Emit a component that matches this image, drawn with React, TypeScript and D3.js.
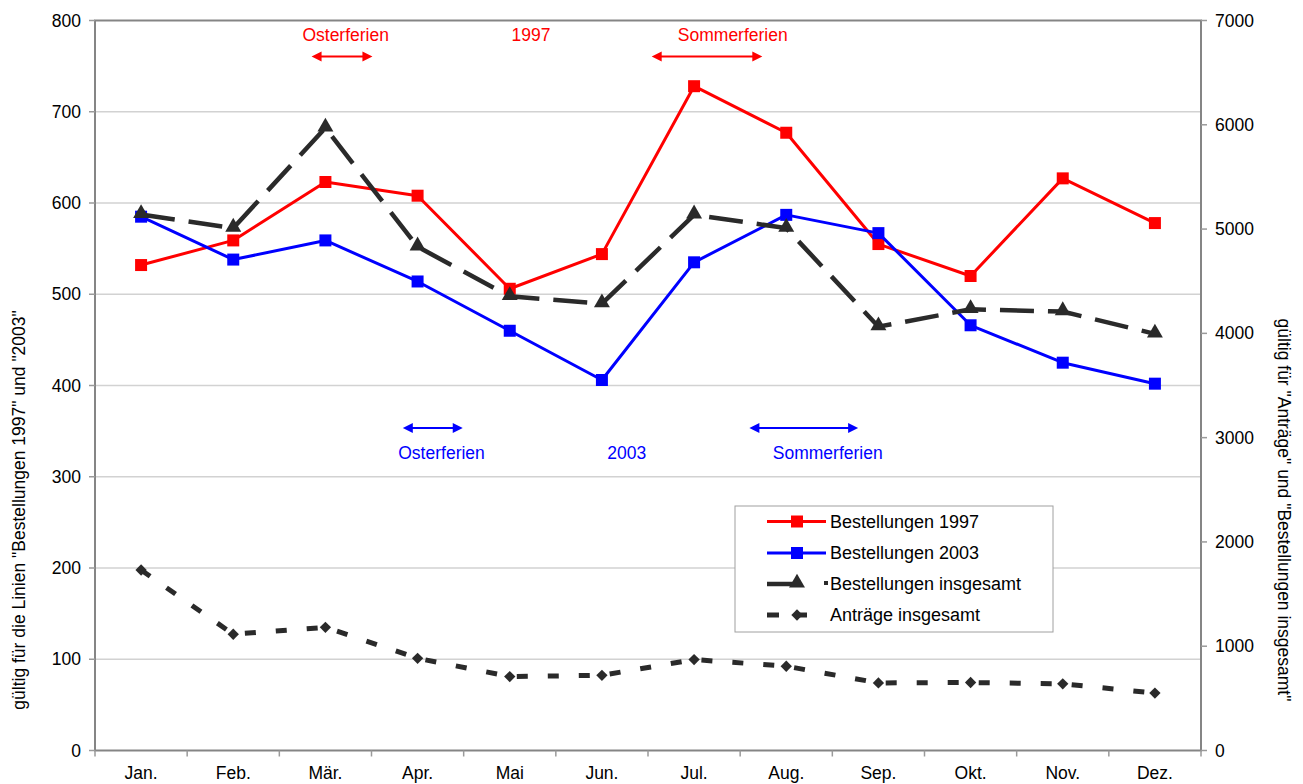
import React from 'react';
import * as d3 from 'd3';

const months = ['Jan.', 'Feb.', 'Mär.', 'Apr.', 'Mai', 'Jun.', 'Jul.', 'Aug.', 'Sep.', 'Okt.', 'Nov.', 'Dez.'];

// left axis series
const best1997 = [532, 559, 623, 608, 506, 544, 728, 677, 555, 520, 627, 578];
const best2003 = [585, 538, 559, 514, 460, 406, 535, 587, 567, 466, 425, 402];
// right axis series
const bestGesamt = [5140, 5010, 5970, 4830, 4355, 4285, 5137, 5009, 4064, 4230, 4209, 3995];
const antraege = [1731, 1115, 1181, 884, 709, 721, 872, 808, 648, 652, 639, 551];

const leftTicks = [0, 100, 200, 300, 400, 500, 600, 700, 800];
const rightTicks = [0, 1000, 2000, 3000, 4000, 5000, 6000, 7000];

// holiday annotations, positions in month index units
const ferien1997 = [
  { label: 'Osterferien', from: 1.85, to: 2.51, text: 2.22 },
  { label: 'Sommerferien', from: 5.54, to: 6.74, text: 6.42 },
];
const ferien2003 = [
  { label: 'Osterferien', from: 2.84, to: 3.49, text: 3.26 },
  { label: 'Sommerferien', from: 6.6, to: 7.78, text: 7.45 },
];

const W = 1303, H = 784;
const L = 95, R = 1201, T = 20.5, B = 750.5;
const FONT = '"Liberation Sans", Arial, sans-serif';
const DARK = '#2a2a2a';

const x = d3.scaleBand<string>().domain(months).range([L, R]).padding(0);
const cx = (m: string) => (x(m) as number) + x.bandwidth() / 2;
const xi = d3.scaleLinear().domain([0, 11]).range([cx(months[0]), cx(months[11])]);
const yL = d3.scaleLinear().domain([0, 800]).range([B, T]);
const yR = d3.scaleLinear().domain([0, 7000]).range([B, T]);

const sq = d3.symbol().type(d3.symbolSquare).size(144);
const tri = d3.symbol().type(d3.symbolTriangle).size(110);
const dia = d3.symbol().type(d3.symbolSquare).size(64);

function Arrow({ x1, x2, y, color }: { x1: number; x2: number; y: number; color: string }) {
  const h = 10, w = 5;
  return (
    <g fill={color} stroke={color}>
      <line x1={x1 + h - 1} x2={x2 - h + 1} y1={y} y2={y} strokeWidth={2} />
      <path d={`M${x1},${y}L${x1 + h},${y - w}L${x1 + h},${y + w}Z`} stroke="none" />
      <path d={`M${x2},${y}L${x2 - h},${y - w}L${x2 - h},${y + w}Z`} stroke="none" />
    </g>
  );
}

export default function App() {
  const lineL = d3.line<number>().x((_, i) => cx(months[i])).y((d) => yL(d));
  const lineR = d3.line<number>().x((_, i) => cx(months[i])).y((d) => yR(d));

  const legendX = 735, legendY = 506;
  const rows = [521.5, 553, 584, 615];

  return (
    <svg width={W} height={H} style={{ position: 'absolute', left: 0, top: 0, display: 'block' }} fontFamily={FONT}>
      <rect width={W} height={H} fill="#fff" />
      {/* gridlines */}
      {leftTicks.slice(1, -1).map((t) => (
        <line key={t} x1={L} x2={R} y1={yL(t)} y2={yL(t)} stroke="#d2d2d2" strokeWidth={1.5} />
      ))}
      {/* plot frame */}
      <rect x={L} y={T} width={R - L} height={B - T} fill="none" stroke="#858585" strokeWidth={2} />
      {/* left ticks */}
      {leftTicks.map((t) => (
        <g key={t}>
          <line x1={L - 6} x2={L} y1={yL(t)} y2={yL(t)} stroke="#9a9a9a" strokeWidth={1.5} />
          <text x={81} y={yL(t) + 6} textAnchor="end" fontSize={17.5} fill="#000">{t}</text>
        </g>
      ))}
      {/* right ticks */}
      {rightTicks.map((t) => (
        <g key={t}>
          <line x1={R} x2={R + 6} y1={yR(t)} y2={yR(t)} stroke="#9a9a9a" strokeWidth={1.5} />
          <text x={1215} y={yR(t) + 6} textAnchor="start" fontSize={17.5} fill="#000">{t}</text>
        </g>
      ))}
      {/* x ticks and labels */}
      {months.map((m) => (
        <g key={m}>
          <line x1={x(m) as number} x2={x(m) as number} y1={B} y2={B + 6} stroke="#9a9a9a" strokeWidth={1.5} />
          <text x={cx(m)} y={779} textAnchor="middle" fontSize={17.5}>{m}</text>
        </g>
      ))}
      <line x1={R} x2={R} y1={B} y2={B + 6} stroke="#9a9a9a" strokeWidth={1.5} />

      {/* axis titles */}
      <text transform={`translate(25,510) rotate(-90)`} textAnchor="middle" fontSize={17.5}>
        gültig für die Linien "Bestellungen 1997" und "2003"
      </text>
      <text transform={`translate(1278,510) rotate(90)`} textAnchor="middle" fontSize={17.5}>
        gültig für "Anträge" und "Bestellungen insgesamt"
      </text>

      {/* annotations */}
      {ferien1997.map((f) => (
        <g key={'a' + f.label}>
          <Arrow x1={xi(f.from)} x2={xi(f.to)} y={56.5} color="#ff0000" />
          <text x={xi(f.text)} y={41} textAnchor="middle" fontSize={17.5} fill="#ff0000">{f.label}</text>
        </g>
      ))}
      <text x={xi(4.23)} y={41} textAnchor="middle" fontSize={17.5} fill="#ff0000">1997</text>
      {ferien2003.map((f) => (
        <g key={'b' + f.label}>
          <Arrow x1={xi(f.from)} x2={xi(f.to)} y={428} color="#0000ff" />
          <text x={xi(f.text)} y={459} textAnchor="middle" fontSize={17.5} fill="#0000ff">{f.label}</text>
        </g>
      ))}
      <text x={xi(5.27)} y={459} textAnchor="middle" fontSize={17.5} fill="#0000ff">2003</text>

      {/* series */}
      <path d={lineL(best1997) as string} fill="none" stroke="#ff0000" strokeWidth={3} strokeLinejoin="round" />
      {best1997.map((v, i) => (
        <path key={i} d={sq() as string} transform={`translate(${cx(months[i])},${yL(v)})`} fill="#ff0000" />
      ))}
      <path d={lineL(best2003) as string} fill="none" stroke="#0000ff" strokeWidth={3} strokeLinejoin="round" />
      {best2003.map((v, i) => (
        <path key={i} d={sq() as string} transform={`translate(${cx(months[i])},${yL(v)})`} fill="#0000ff" />
      ))}
      <path d={lineR(bestGesamt) as string} fill="none" stroke={DARK} strokeWidth={4.5} strokeDasharray="34 14" />
      {bestGesamt.map((v, i) => (
        <path key={i} d={tri() as string} transform={`translate(${cx(months[i])},${yR(v) - 1})`} fill={DARK} />
      ))}
      <path d={lineR(antraege) as string} fill="none" stroke={DARK} strokeWidth={5} strokeDasharray="11 20" />
      {antraege.map((v, i) => (
        <path key={i} d={dia() as string} transform={`translate(${cx(months[i])},${yR(v)}) rotate(45)`} fill={DARK} />
      ))}

      {/* legend */}
      <rect x={legendX} y={legendY} width={318} height={126} fill="#fff" stroke="#a0a0a0" strokeWidth={1} />
      <line x1={767} x2={826} y1={rows[0]} y2={rows[0]} stroke="#ff0000" strokeWidth={3} />
      <path d={sq() as string} transform={`translate(797,${rows[0]})`} fill="#ff0000" />
      <text x={830} y={rows[0] + 6} fontSize={18}>Bestellungen 1997</text>
      <line x1={767} x2={826} y1={rows[1]} y2={rows[1]} stroke="#0000ff" strokeWidth={3} />
      <path d={sq() as string} transform={`translate(797,${rows[1]})`} fill="#0000ff" />
      <text x={830} y={rows[1] + 6} fontSize={18}>Bestellungen 2003</text>
      <line x1={767} x2={797} y1={rows[2]} y2={rows[2]} stroke={DARK} strokeWidth={4.5} />
      <path d={tri() as string} transform={`translate(797,${rows[2] - 1})`} fill={DARK} />
      <rect x={824} y={rows[2] - 3} width={4} height={4} fill={DARK} />
      <text x={830} y={rows[2] + 6} fontSize={18}>Bestellungen insgesamt</text>
      <line x1={767} x2={779} y1={rows[3]} y2={rows[3]} stroke={DARK} strokeWidth={5} />
      <line x1={797} x2={807} y1={rows[3]} y2={rows[3]} stroke={DARK} strokeWidth={5} />
      <path d={dia() as string} transform={`translate(797,${rows[3]}) rotate(45)`} fill={DARK} />
      <text x={830} y={rows[3] + 6} fontSize={18}>Anträge insgesamt</text>
    </svg>
  );
}
